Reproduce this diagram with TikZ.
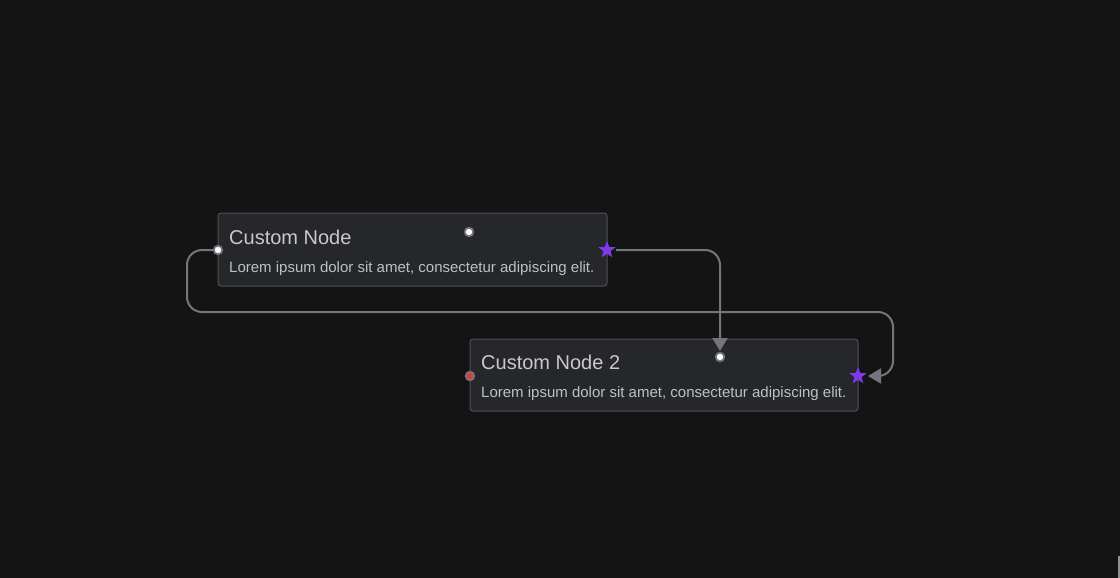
\documentclass[tikz,border=0pt]{standalone}
\usepackage{fontspec}
\setmainfont{Liberation Sans}
\usetikzlibrary{arrows.meta,shapes.geometric,calc}
\definecolor{bg}{HTML}{141414}
\definecolor{boxfill}{HTML}{26272B}
\definecolor{boxline}{HTML}{505156}
\definecolor{edgecol}{HTML}{75767C}
\definecolor{titlecol}{HTML}{C9C9CD}
\definecolor{bodycol}{HTML}{BFC0C4}
\definecolor{starcol}{HTML}{7C3AED}
\definecolor{redcol}{HTML}{E03A3A}
\tikzset{
  cardbox/.style={draw=boxline, fill=boxfill, line width=1pt, rounded corners=3pt},
  titletext/.style={anchor=base west, inner sep=0pt, text=titlecol, font=\fontsize{20}{24}\selectfont},
  bodytext/.style={anchor=base west, inner sep=0pt, text=bodycol, font=\fontsize{15}{18}\selectfont},
  dothandle/.style={circle, draw=edgecol, fill=white, line width=1.8pt, inner sep=0pt, minimum size=8.5pt},
  redhandle/.style={dothandle, fill=redcol},
  starhandle/.style={star, star points=5, star point ratio=2.4, fill=starcol, draw=none, inner sep=0pt, minimum size=18pt},
  edge/.style={draw=edgecol, line width=2pt, rounded corners=15pt, -{Triangle[width=15pt,length=13pt]}},
}
\begin{document}
\begin{tikzpicture}[x=1pt,y=-1pt]
\fill[bg] (0,0) rectangle (1120,578);
\useasboundingbox (0,0) rectangle (1120,578);
% cards
\draw[cardbox] (218,213) rectangle (607,286);
\node[titletext] (t1) at (229,244) {Custom Node};
\node[bodytext] (b1) at (229,272) {Lorem ipsum dolor sit amet, consectetur adipiscing elit.};
\draw[cardbox] (470,339) rectangle (858,411);
\node[titletext] (t2) at (481,369) {Custom Node 2};
\node[bodytext] (b2) at (481,397) {Lorem ipsum dolor sit amet, consectetur adipiscing elit.};
% handle positions
\coordinate (l1) at (218,250);
\coordinate (top1) at (469,232);
\coordinate (r1) at (607,250);
\coordinate (l2) at (470,376);
\coordinate (top2) at (720,357);
\coordinate (r2) at (858,376);
% edges
\draw[edge, shorten <=9pt, shorten >=6pt] (r1) -| (top2);
\draw[edge, shorten >=10pt] (l1) -- ++(-31,0) -- ++(0,62) -| ($(r2)+(35,0)$) -- (r2);
% handles
\node[dothandle] (hl1) at (l1) {};
\node[dothandle] (ht1) at (top1) {};
\node[starhandle] (hr1) at (r1) {};
\node[redhandle] (hl2) at (l2) {};
\node[dothandle] (ht2) at (top2) {};
\node[starhandle] (hr2) at (r2) {};
% edge sliver at right border
\fill[edgecol!80!white] (1118,556) rectangle (1120,578);
\end{tikzpicture}
\end{document}
